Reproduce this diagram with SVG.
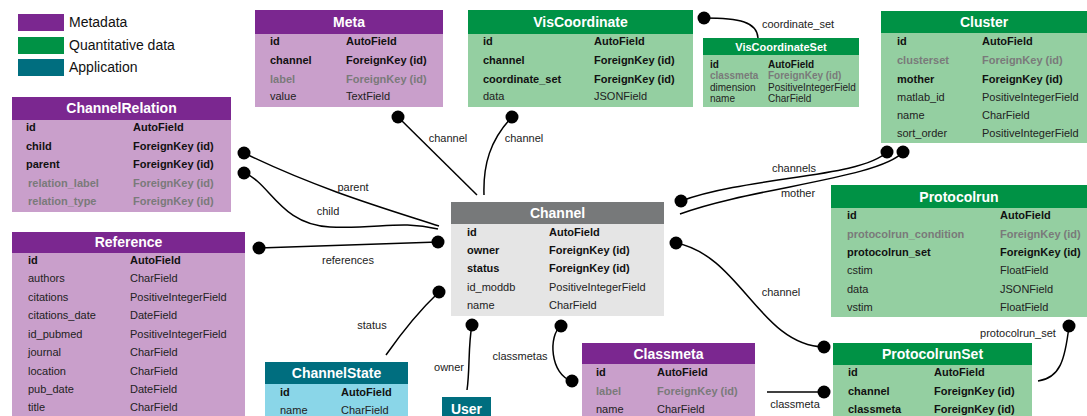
<svg xmlns="http://www.w3.org/2000/svg" width="1087" height="416" viewBox="0 0 1087 416">
<style>
text{font-family:"Liberation Sans",Arial,sans-serif;}
.hm{fill:#7B2790}.bm{fill:#C99FCB}
.hq{fill:#009245}.bq{fill:#94CFA1}
.ha{fill:#006E7F}.ba{fill:#8AD6E8}
.hc{fill:#77797A}.bc{fill:#E5E5E5}
.t{font-size:14px;font-weight:bold;fill:#fff;text-anchor:middle}
.ts{font-size:11px;font-weight:bold;fill:#fff;text-anchor:middle}
.b{font-size:11px;font-weight:bold;fill:#111}
.g{font-size:11px;font-weight:bold;fill:#7a7a7a}
.r{font-size:11px;fill:#222}
.s .b,.s .g,.s .r{font-size:10px}
.lg{font-size:14px;fill:#111}
.cl{font-size:11px;fill:#222;text-anchor:middle}
.ln{fill:none;stroke:#000;stroke-width:1.5}
.dot{fill:#000}
</style>
<g id="legend">
<rect class="hm" x="18" y="14" width="46" height="17"/><text class="lg" x="69" y="27">Metadata</text>
<rect class="hq" x="18" y="37" width="46" height="17"/><text class="lg" x="69" y="50">Quantitative data</text>
<rect class="ha" x="18" y="59" width="46" height="17"/><text class="lg" x="69" y="72">Application</text>
</g>
<g id="connectors">
<path class="ln" d="M704,18 C740,18 757,22 758,38"/><circle class="dot" cx="704" cy="18" r="6.5"/>
<text class="cl" x="798" y="28">coordinate_set</text>
<path class="ln" d="M398,117 L477,195"/><circle class="dot" cx="398" cy="117" r="6.5"/>
<text class="cl" x="448" y="142">channel</text>
<path class="ln" d="M512,117 C490,140 483,165 484,195"/><circle class="dot" cx="512" cy="117" r="6.5"/>
<text class="cl" x="524" y="142">channel</text>
<path class="ln" d="M244,153 C320,190 390,210 439,226"/><circle class="dot" cx="244" cy="153" r="6.5"/>
<text class="cl" x="353" y="191">parent</text>
<path class="ln" d="M244,173 C270,182 280,225 330,227 C380,229 400,220 438,229"/><circle class="dot" cx="244" cy="173" r="6.5"/>
<text class="cl" x="328" y="215">child</text>
<path class="ln" d="M259,248 L438,242"/><circle class="dot" cx="259" cy="248" r="6.5"/><circle class="dot" cx="438" cy="242" r="6.5"/>
<text class="cl" x="348" y="264">references</text>
<path class="ln" d="M439,292 C420,310 400,335 386,355"/><circle class="dot" cx="439" cy="292" r="6.5"/>
<text class="cl" x="372" y="329">status</text>
<path class="ln" d="M472,325 C468,345 470,370 467,390"/><circle class="dot" cx="472" cy="325" r="6.5"/>
<text class="cl" x="449" y="371">owner</text>
<path class="ln" d="M561,326 C548,335 550,375 572,381"/><circle class="dot" cx="561" cy="326" r="6.5"/><circle class="dot" cx="572" cy="381" r="6.5"/>
<text class="cl" x="520" y="360">classmetas</text>
<path class="ln" d="M681,201 C750,176 860,178 887,152"/><circle class="dot" cx="681" cy="201" r="6.5"/><circle class="dot" cx="887" cy="152" r="6.5"/>
<text class="cl" x="794" y="172">channels</text>
<path class="ln" d="M680,214 C750,188 880,178 903,152"/><circle class="dot" cx="903" cy="152" r="6.5"/>
<text class="cl" x="798" y="197">mother</text>
<path class="ln" d="M676,243 C740,255 760,345 824,347"/><circle class="dot" cx="676" cy="243" r="6.5"/><circle class="dot" cx="824" cy="347" r="6.5"/>
<text class="cl" x="781" y="296">channel</text>
<path class="ln" d="M767,392 L824,392"/><circle class="dot" cx="824" cy="392" r="6.5"/>
<text class="cl" x="795" y="408">classmeta</text>
<path class="ln" d="M1069,326 C1065,360 1060,378 1038,381"/><circle class="dot" cx="1069" cy="326" r="6.5"/>
<text class="cl" x="1018" y="337">protocolrun_set</text>
</g>
<g id="ChannelRelation">
<rect class="bm" x="12" y="120" width="219" height="92"/><rect class="hm" x="12" y="97" width="219" height="23"/>
<text class="t" x="121.5" y="113">ChannelRelation</text>
<text class="b" x="26" y="131">id</text><text class="b" x="133" y="131">AutoField</text>
<text class="b" x="26" y="150">child</text><text class="b" x="133" y="150">ForeignKey (id)</text>
<text class="b" x="26" y="168">parent</text><text class="b" x="133" y="168">ForeignKey (id)</text>
<text class="g" x="28" y="187">relation_label</text><text class="g" x="133" y="187">ForeignKey (id)</text>
<text class="g" x="28" y="205">relation_type</text><text class="g" x="133" y="205">ForeignKey (id)</text>
</g>
<g id="Meta">
<rect class="bm" x="255" y="34" width="188" height="73"/><rect class="hm" x="255" y="10" width="188" height="24"/>
<text class="t" x="349" y="27">Meta</text>
<text class="b" x="270" y="45">id</text><text class="b" x="346" y="45">AutoField</text>
<text class="b" x="270" y="64">channel</text><text class="b" x="346" y="64">ForeignKey (id)</text>
<text class="g" x="270" y="83">label</text><text class="g" x="346" y="83">ForeignKey (id)</text>
<text class="r" x="270" y="100">value</text><text class="r" x="346" y="100">TextField</text>
</g>
<g id="VisCoordinate">
<rect class="bq" x="468" y="34" width="225" height="73"/><rect class="hq" x="468" y="10" width="225" height="24"/>
<text class="t" x="580.5" y="27">VisCoordinate</text>
<text class="b" x="483" y="45">id</text><text class="b" x="594" y="45">AutoField</text>
<text class="b" x="483" y="64">channel</text><text class="b" x="594" y="64">ForeignKey (id)</text>
<text class="b" x="483" y="83">coordinate_set</text><text class="b" x="594" y="83">ForeignKey (id)</text>
<text class="r" x="483" y="100">data</text><text class="r" x="594" y="100">JSONField</text>
</g>
<g id="VisCoordinateSet" class="s">
<rect class="bq" x="703" y="55" width="156" height="52"/><rect class="hq" x="703" y="38" width="156" height="17"/>
<text class="ts" x="781" y="51">VisCoordinateSet</text>
<text class="b" x="710" y="68">id</text><text class="b" x="768" y="68">AutoField</text>
<text class="g" x="710" y="79">classmeta</text><text class="g" x="768" y="79">ForeignKey (id)</text>
<text class="r" x="710" y="90.5">dimension</text><text class="r" x="768" y="90.5">PositiveIntegerField</text>
<text class="r" x="710" y="101.5">name</text><text class="r" x="768" y="101.5">CharField</text>
</g>
<g id="Cluster">
<rect class="bq" x="881" y="33" width="206" height="110"/><rect class="hq" x="881" y="11" width="206" height="22"/>
<text class="t" x="984" y="27">Cluster</text>
<text class="b" x="897" y="45">id</text><text class="b" x="982" y="45">AutoField</text>
<text class="g" x="897" y="64">clusterset</text><text class="g" x="982" y="64">ForeignKey (id)</text>
<text class="b" x="897" y="83">mother</text><text class="b" x="982" y="83">ForeignKey (id)</text>
<text class="r" x="897" y="101">matlab_id</text><text class="r" x="982" y="101">PositiveIntegerField</text>
<text class="r" x="897" y="119">name</text><text class="r" x="982" y="119">CharField</text>
<text class="r" x="897" y="137">sort_order</text><text class="r" x="982" y="137">PositiveIntegerField</text>
</g>
<g id="Protocolrun">
<rect class="bq" x="831" y="208" width="256" height="109"/><rect class="hq" x="831" y="185" width="256" height="23"/>
<text class="t" x="959" y="202">Protocolrun</text>
<text class="b" x="847" y="219">id</text><text class="b" x="1000" y="219">AutoField</text>
<text class="g" x="847" y="238">protocolrun_condition</text><text class="g" x="1000" y="238">ForeignKey (id)</text>
<text class="b" x="847" y="256">protocolrun_set</text><text class="b" x="1000" y="256">ForeignKey (id)</text>
<text class="r" x="847" y="274">cstim</text><text class="r" x="1000" y="274">FloatField</text>
<text class="r" x="847" y="293">data</text><text class="r" x="1000" y="293">JSONField</text>
<text class="r" x="847" y="311">vstim</text><text class="r" x="1000" y="311">FloatField</text>
</g>
<g id="ProtocolrunSet">
<rect class="bq" x="833" y="365" width="199" height="51"/><rect class="hq" x="833" y="343" width="199" height="22"/>
<text class="t" x="932.5" y="359">ProtocolrunSet</text>
<text class="b" x="848" y="376">id</text><text class="b" x="934" y="376">AutoField</text>
<text class="b" x="848" y="395">channel</text><text class="b" x="934" y="395">ForeignKey (id)</text>
<text class="b" x="848" y="413">classmeta</text><text class="b" x="934" y="413">ForeignKey (id)</text>
</g>
<g id="Classmeta">
<rect class="bm" x="582" y="364" width="173" height="52"/><rect class="hm" x="582" y="343" width="173" height="21"/>
<text class="t" x="668.5" y="359">Classmeta</text>
<text class="b" x="596" y="376">id</text><text class="b" x="657" y="376">AutoField</text>
<text class="g" x="596" y="395">label</text><text class="g" x="657" y="395">ForeignKey (id)</text>
<text class="r" x="596" y="413">name</text><text class="r" x="657" y="413">CharField</text>
</g>
<g id="User">
<rect class="ha" x="442" y="397" width="49" height="19"/>
<text class="t" x="466.5" y="414">User</text>
</g>
<g id="ChannelState">
<rect class="ba" x="265" y="384" width="143" height="32"/><rect class="ha" x="265" y="362" width="143" height="22"/>
<text class="t" x="336.5" y="378">ChannelState</text>
<text class="b" x="280" y="396">id</text><text class="b" x="341" y="396">AutoField</text>
<text class="r" x="280" y="414">name</text><text class="r" x="341" y="414">CharField</text>
</g>
<g id="Channel">
<rect class="bc" x="451" y="224" width="213" height="92"/><rect class="hc" x="451" y="202" width="213" height="22"/>
<text class="t" x="557.5" y="218">Channel</text>
<text class="b" x="467" y="236">id</text><text class="b" x="549" y="236">AutoField</text>
<text class="b" x="467" y="254">owner</text><text class="b" x="549" y="254">ForeignKey (id)</text>
<text class="b" x="467" y="272">status</text><text class="b" x="549" y="272">ForeignKey (id)</text>
<text class="r" x="467" y="291">id_moddb</text><text class="r" x="549" y="291">PositiveIntegerField</text>
<text class="r" x="467" y="309">name</text><text class="r" x="549" y="309">CharField</text>
</g>
<g id="Reference">
<rect class="bm" x="12" y="253" width="233" height="163"/><rect class="hm" x="12" y="232" width="233" height="21"/>
<text class="t" x="128.5" y="247">Reference</text>
<text class="b" x="28" y="264">id</text><text class="b" x="130" y="264">AutoField</text>
<text class="r" x="28" y="282">authors</text><text class="r" x="130" y="282">CharField</text>
<text class="r" x="28" y="301">citations</text><text class="r" x="130" y="301">PositiveIntegerField</text>
<text class="r" x="28" y="319">citations_date</text><text class="r" x="130" y="319">DateField</text>
<text class="r" x="28" y="338">id_pubmed</text><text class="r" x="130" y="338">PositiveIntegerField</text>
<text class="r" x="28" y="356">journal</text><text class="r" x="130" y="356">CharField</text>
<text class="r" x="28" y="375">location</text><text class="r" x="130" y="375">CharField</text>
<text class="r" x="28" y="393">pub_date</text><text class="r" x="130" y="393">DateField</text>
<text class="r" x="28" y="411">title</text><text class="r" x="130" y="411">CharField</text>
</g>
</svg>
